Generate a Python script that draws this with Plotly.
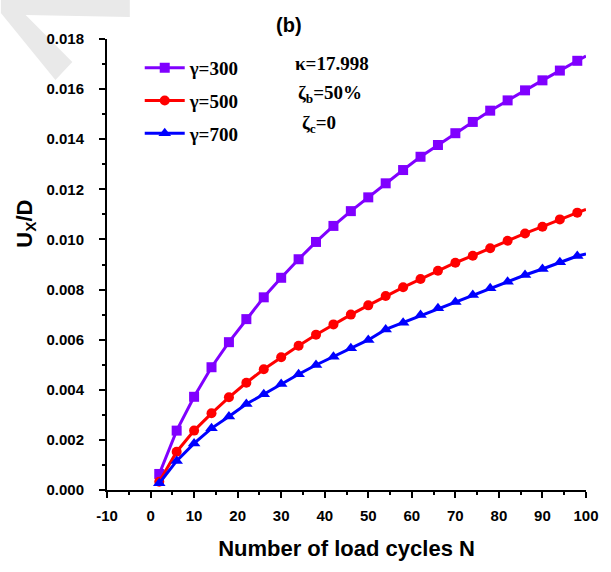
import plotly.graph_objects as go

N = [2, 6, 10, 14, 18, 22, 26, 30, 34, 38, 42, 46, 50, 54, 58, 62, 66, 70, 74, 78, 82, 86, 90, 94, 98, 100]
g300 = [0.00064, 0.00237, 0.00372, 0.0049, 0.0059, 0.00682, 0.00769, 0.00847, 0.00921, 0.0099, 0.01054, 0.01113, 0.01168,
        0.01224, 0.01277, 0.0133, 0.01377, 0.01424, 0.01469, 0.01514, 0.01555, 0.01595, 0.01635, 0.01674, 0.01713, 0.01732]
g500 = [0.00033, 0.00153, 0.00237, 0.00306, 0.0037, 0.00428, 0.00482, 0.0053, 0.00576, 0.0062, 0.00661, 0.007, 0.00737,
        0.00774, 0.00809, 0.00842, 0.00875, 0.00907, 0.00935, 0.00965, 0.00995, 0.01024, 0.01051, 0.0108, 0.01107, 0.0112]
g700 = [0.00027, 0.00116, 0.00186, 0.00246, 0.00293, 0.00343, 0.00382, 0.00423, 0.00462, 0.00499, 0.00532, 0.00566, 0.00599,
        0.00641, 0.00668, 0.00698, 0.00725, 0.0075, 0.00778, 0.00805, 0.00831, 0.00858, 0.00882, 0.00909, 0.00934, 0.00942]
x_ticks = [-10, 0, 10, 20, 30, 40, 50, 60, 70, 80, 90, 100]
x_tick_text = ["-10", "0", "10", "20", "30", "40", "50", "60", "70", "80", "90", "100"]

series = [
    ("γ=300", g300, "#8000FF", "square", 10),
    ("γ=500", g500, "#FF0000", "circle", 10),
    ("γ=700", g700, "#0000FF", "triangle-up", 11),
]

fig = go.Figure()
for i, (name, ys, col, sym, ms) in enumerate(series):
    fig.add_trace(go.Scatter(
        x=N[:-1], y=ys[:-1], name=name, mode="lines+markers",
        line=dict(color=col, width=3),
        marker=dict(symbol=sym, size=ms, color=col),
        legendgroup=f"g{i}", cliponaxis=False,
    ))
    fig.add_trace(go.Scatter(
        x=N[-2:], y=ys[-2:], mode="lines", showlegend=False,
        line=dict(color=col, width=3), legendgroup=f"g{i}", hoverinfo="skip",
    ))

W, H = 611, 572
L, R, T, B = 107, 21, 39, 82
pw, ph = W - L - R, H - T - B

def px(xp):
    return (xp - L) / pw

def py(yp):
    return (H - B - yp) / ph

# faint watermark fragment (top-left)
wm = [(0, 0), (130, 0), (130, 17), (25, 15), (72, 62), (55, 80), (0, 13)]
path = "M " + " L ".join(f"{px(a):.4f},{py(b):.4f}" for a, b in wm) + " Z"
fig.add_shape(type="path", xref="paper", yref="paper", path=path,
              fillcolor="#e9e9e9", line=dict(width=0), layer="below")

TF = "Liberation Sans"
axis_common = dict(
    showline=True, linecolor="black", linewidth=2, mirror=False,
    showgrid=False, zeroline=False,
    ticks="outside", ticklen=6, tickwidth=2, tickcolor="black",
    tickfont=dict(family=TF, size=15, color="black", weight="bold"),
)

fig.update_xaxes(
    range=[-10, 100], tickvals=x_ticks, ticktext=x_tick_text,
    minor=dict(dtick=5, tick0=0, ticks="outside", ticklen=3, tickwidth=2, tickcolor="black"),
    title=dict(text="Number of load cycles N", font=dict(family=TF, size=22, color="black", weight="bold"), standoff=18),
    ticklabelstandoff=5,
    **axis_common,
)
fig.update_yaxes(
    range=[0, 0.018], dtick=0.002, tick0=0, tickformat=".3f",
    minor=dict(dtick=0.001, ticks="outside", ticklen=3, tickwidth=2, tickcolor="black"),
    ticklabelstandoff=12,
    **axis_common,
)

# y-axis title
fig.add_annotation(xref="paper", yref="paper", x=px(25), y=py(224), text="U<sub>X</sub>/D",
                   textangle=-90, showarrow=False, xanchor="center", yanchor="middle",
                   font=dict(family=TF, size=22, color="black", weight="bold"))
# panel label
fig.add_annotation(xref="paper", yref="paper", x=px(291), y=py(25), text="(b)",
                   showarrow=False, xanchor="center", yanchor="middle",
                   font=dict(family=TF, size=20, color="black", weight="bold"))

serif = dict(family="Liberation Serif", size=19, color="black", weight="bold")
fig.add_annotation(xref="paper", yref="paper", x=px(295), y=py(63), text="κ=17.998",
                   showarrow=False, xanchor="left", yanchor="middle", font=serif)
fig.add_annotation(xref="paper", yref="paper", x=px(298), y=py(94), text="ζ<sub>b</sub>=50%",
                   showarrow=False, xanchor="left", yanchor="middle", font=serif)
fig.add_annotation(xref="paper", yref="paper", x=px(302), y=py(124), text="ζ<sub>c</sub>=0",
                   showarrow=False, xanchor="left", yanchor="middle", font=serif)

fig.update_layout(
    width=W, height=H,
    margin=dict(l=L, r=R, t=T, b=B),
    paper_bgcolor="white", plot_bgcolor="white",
    legend=dict(x=px(140), y=py(49), xanchor="left", yanchor="top",
                font=serif, bgcolor="rgba(0,0,0,0)", tracegroupgap=5, itemwidth=40),
    showlegend=True,
)

fig.write_html("out.html")
